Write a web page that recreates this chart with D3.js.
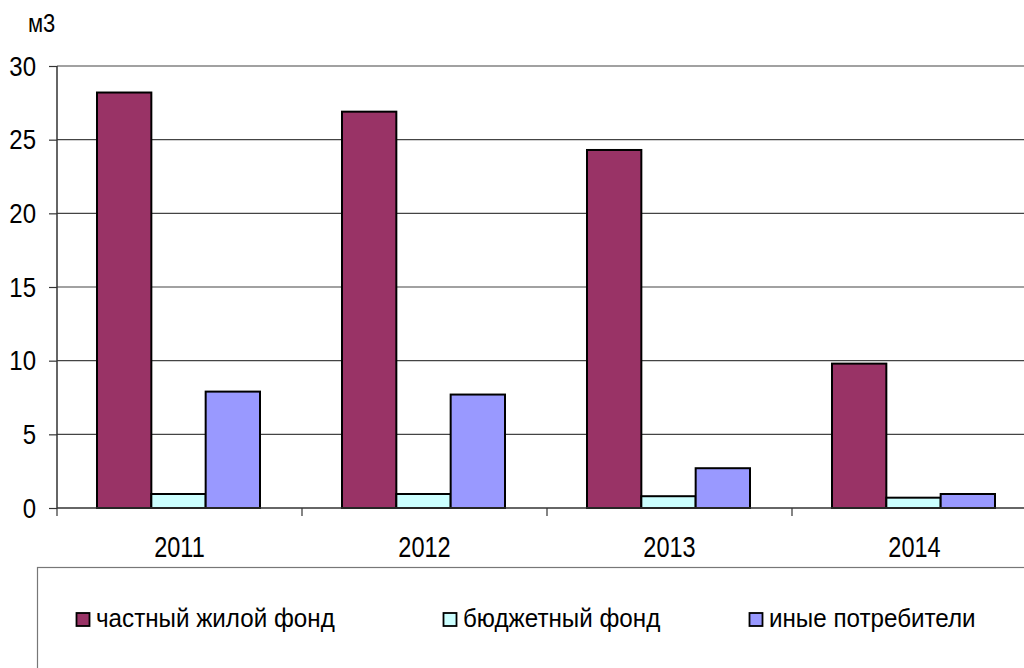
<!DOCTYPE html>
<html><head><meta charset="utf-8">
<script src="https://cdn.jsdelivr.net/npm/d3@7"></script>
<style>body{margin:0;background:#fff}svg{display:block;font-family:"Liberation Sans",Arial,sans-serif}</style>
</head><body><svg id="c" width="1024" height="668"></svg>
<script>
const years = ["2011","2012","2013","2014"];
const seriesNames = ["частный жилой фонд","бюджетный фонд","иные потребители"];
const privateHousing = [28.2, 26.9, 24.3, 9.8];
const budgetFund = [0.95, 0.95, 0.8, 0.7];
const otherConsumers = [7.9, 7.7, 2.7, 0.95];
const colors = ["#993366","#CCFFFF","#9999FF"];
const yTicks = [0,5,10,15,20,25,30];
const unitLabel = "м3";

const series = [privateHousing, budgetFund, otherConsumers];
const svg = d3.select("#c");
const x0 = d3.scaleBand().domain(years).range([57, 1037]);
const x1 = d3.scaleBand().domain(d3.range(3)).range([40, 203]);
const y = d3.scaleLinear().domain([0,30]).range([508, 66]);

// gridlines
svg.append("g").selectAll("line").data(yTicks.filter(d=>d>0)).join("line")
  .attr("x1",57).attr("x2",1024).attr("y1",d=>y(d)).attr("y2",d=>y(d))
  .attr("stroke","#444").attr("stroke-width",1.2);

// bars
years.forEach((yr,i)=>{
  const g = svg.append("g").attr("transform",`translate(${x0(yr)},0)`);
  g.selectAll("rect").data(series.map((s,k)=>({k,v:s[i]}))).join("rect")
    .attr("x",d=>x1(d.k)).attr("width",x1.bandwidth())
    .attr("y",d=>y(d.v)).attr("height",d=>y(0)-y(d.v))
    .attr("fill",d=>colors[d.k]).attr("stroke","#000").attr("stroke-width",2);
});

// y axis
const ys = 1.17;
const ya = svg.append("g").attr("transform","translate(57,0)")
  .call(d3.axisLeft(y).tickValues(yTicks).tickSize(8));
ya.select(".domain").attr("stroke","#333").attr("stroke-width",1.5).attr("d","M0,66V508");
ya.selectAll(".tick line").attr("stroke","#333").attr("stroke-width",1.2);
ya.selectAll("text").attr("font-size",24).attr("fill","#000").attr("font-family","Liberation Sans, Arial")
  .attr("x",-21).attr("dy",0).attr("y",9/ys).attr("transform",`scale(1,${ys})`);

// x axis
const xs = 1.28;
const xa = svg.append("g").attr("transform","translate(0,508)")
  .call(d3.axisBottom(x0).tickSize(0));
xa.select(".domain").attr("stroke","#333").attr("stroke-width",1.5).attr("d","M57,0H1024");
xa.selectAll("text").attr("font-size",23.5).attr("fill","#000").attr("font-family","Liberation Sans, Arial")
  .attr("dy",0).attr("y",49/xs).attr("transform",`scale(1,${xs})`);
const bounds = years.map(yr=>x0(yr)).concat([x0("2014")+x0.bandwidth()]);
svg.append("g").selectAll("line").data(bounds).join("line")
  .attr("x1",d=>d).attr("x2",d=>d).attr("y1",508).attr("y2",516)
  .attr("stroke","#333").attr("stroke-width",1.2);

// unit label
svg.append("text").attr("transform","translate(28,32) scale(1,1.15)").attr("font-size",22).text(unitLabel);

// legend
svg.append("rect").attr("x",37.5).attr("y",567.5).attr("width",1000).attr("height",120)
  .attr("fill","none").attr("stroke","#777").attr("stroke-width",1.2);
const legX = [76, 443, 749];
const lg = svg.append("g").selectAll("g").data(seriesNames).join("g")
  .attr("transform",(d,i)=>`translate(${legX[i]},0)`);
lg.append("rect").attr("x",0.5).attr("y",613).attr("width",13).attr("height",13)
  .attr("fill",(d,i)=>colors[i]).attr("stroke","#000").attr("stroke-width",1.8);
lg.append("text").attr("transform","translate(20,627) scale(1,1.1)").attr("font-size",24.2).text(d=>d);
</script></body></html>
